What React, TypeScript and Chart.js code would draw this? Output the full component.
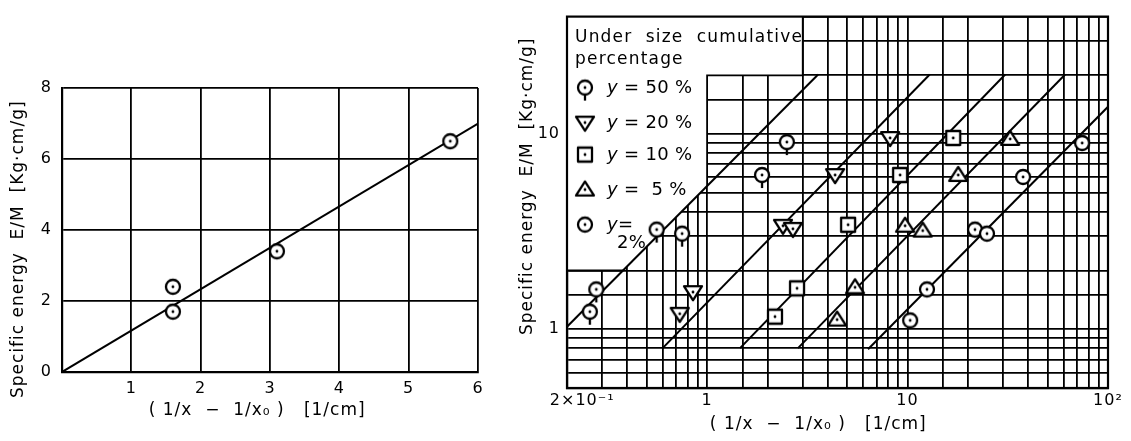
import React, { useEffect, useRef } from 'react';
import { Chart, registerables } from 'chart.js';

Chart.register(...registerables);

const FONT = '"DejaVu Sans", "Liberation Sans", sans-serif';

// ---------- Left panel data ----------
const leftX = [1.6, 1.6, 3.1, 5.6];
const leftY = [2.4, 1.7, 3.4, 6.5];
const leftFitX = [0, 6];
const leftFitY = [0, 7.0];

// ---------- Right panel data ----------
const legendTitle = ['Under  size  cumulative', 'percentage'];
const seriesLabels = ['y = 50 %', 'y = 20 %', 'y = 10 %', 'y =  5 %', 'y=\n2%'];
const x50 = [0.26, 0.28, 0.56, 0.75, 1.88, 2.5];
const y50 = [1.23, 1.6, 3.24, 3.09, 6.17, 9.1];
const x20 = [0.73, 0.85, 2.39, 2.68, 4.35, 8.18];
const y20 = [1.2, 1.55, 3.39, 3.27, 6.17, 9.55];
const x10 = [2.18, 2.81, 5.05, 9.18, 16.9];
const y10 = [1.16, 1.62, 3.43, 6.17, 9.55];
const x5 = [4.45, 5.47, 9.72, 11.9, 17.9, 32.5];
const y5 = [1.12, 1.64, 3.39, 3.2, 6.17, 9.44];
const x2 = [10.3, 12.5, 21.7, 24.9, 37.7, 74.3];
const y2 = [1.11, 1.6, 3.24, 3.09, 6.03, 9.0];
const fit50X = [0.2, 3.58];
const fit50Y = [1.03, 20.2];
const fit20X = [0.6, 12.9];
const fit20Y = [0.8, 20.2];
const fit10X = [1.46, 30.7];
const fit10Y = [0.8, 20.2];
const fit5X = [2.84, 61.1];
const fit5Y = [0.8, 20.2];
const fit2X = [6.35, 100];
const fit2Y = [0.79, 13.8];

const rightXTickValues = [0.2, 1, 10, 100];
const rightXTickLabels = ['2×10⁻¹', '1', '10', '10²'];
const rightYTickValues = [1, 10];
const rightYTickLabels = ['1', '10'];

const yTitle = 'Specific energy  E/M  [Kg·cm/g]';
const xTitle = '( 1/x  −  1/x₀ )   [1/cm]';

const zip = (xs: number[], ys: number[]) => xs.map((x, i) => ({ x, y: ys[i] }));

function makeMarker(kind: string, size: number): HTMLCanvasElement {
  const stem = kind === 'circleStem' ? 6 : 0;
  const c = document.createElement('canvas');
  const w = size + 6;
  const h = size + 6 + stem * 2;
  c.width = w;
  c.height = h;
  const ctx = c.getContext('2d')!;
  const cx = w / 2;
  const cy = h / 2;
  const r = size / 2;
  ctx.lineWidth = 2.3;
  ctx.lineJoin = 'round';
  ctx.strokeStyle = '#000';
  ctx.fillStyle = '#fff';
  ctx.beginPath();
  if (kind === 'circle' || kind === 'circleStem') {
    ctx.arc(cx, cy, r - 1, 0, Math.PI * 2);
  } else if (kind === 'triDown') {
    ctx.moveTo(cx - r, cy - r * 0.65);
    ctx.lineTo(cx + r, cy - r * 0.65);
    ctx.lineTo(cx, cy + r * 0.9);
    ctx.closePath();
  } else if (kind === 'triUp') {
    ctx.moveTo(cx - r, cy + r * 0.65);
    ctx.lineTo(cx + r, cy + r * 0.65);
    ctx.lineTo(cx, cy - r * 0.9);
    ctx.closePath();
  } else {
    ctx.rect(cx - r + 1, cy - r + 1, size - 2, size - 2);
  }
  ctx.fill();
  ctx.stroke();
  if (stem) {
    ctx.beginPath();
    ctx.moveTo(cx, cy + r - 1);
    ctx.lineTo(cx, cy + r + stem - 1);
    ctx.stroke();
  }
  ctx.fillStyle = '#000';
  ctx.beginPath();
  ctx.arc(cx, cy, 1.4, 0, Math.PI * 2);
  ctx.fill();
  return c;
}

const matchTick = (v: number, vals: number[], labels: string[]) => {
  for (let i = 0; i < vals.length; i++) {
    if (Math.abs(v - vals[i]) / vals[i] < 1e-6) return labels[i];
  }
  return '';
};

const SPACING = '1px';
const spacingPlugin = {
  id: 'letterSpacing',
  beforeUpdate(chart: any) {
    (chart.ctx as any).letterSpacing = SPACING;
  },
  beforeDraw(chart: any) {
    (chart.ctx as any).letterSpacing = SPACING;
  },
};

export default function App() {
  const leftRef = useRef<HTMLCanvasElement>(null);
  const rightRef = useRef<HTMLCanvasElement>(null);

  useEffect(() => {
    const mk = {
      circleStem: makeMarker('circleStem', 16),
      triDown: makeMarker('triDown', 18),
      square: makeMarker('square', 16),
      triUp: makeMarker('triUp', 18),
      circle: makeMarker('circle', 16),
      leftCircle: makeMarker('circle', 16),
    };
    const legendMarkers = [mk.circleStem, mk.triDown, mk.square, mk.triUp, mk.circle];

    const tickFont = { family: FONT, size: 16 };
    const titleFont = { family: FONT, size: 17 };

    const left = new Chart(leftRef.current!, {
      type: 'scatter',
      data: {
        datasets: [
          {
            data: zip(leftX, leftY),
            pointStyle: mk.leftCircle as any,
            pointRadius: 8,
            order: 1,
          },
          {
            data: zip(leftFitX, leftFitY),
            showLine: true,
            pointRadius: 0,
            borderColor: '#000',
            borderWidth: 2,
            order: 2,
          },
        ],
      },
      options: {
        animation: false,
        responsive: false,
        layout: { padding: { left: 0, right: 22, top: 88, bottom: 0 } },
        plugins: { legend: { display: false }, tooltip: { enabled: false } },
        scales: {
          x: {
            type: 'linear',
            min: 0,
            max: 6,
            afterFit: (s: any) => { s.height = 69; },
            grid: { color: '#000', lineWidth: 1.8, drawTicks: false },
            border: { color: '#000', width: 2.2 },
            ticks: {
              stepSize: 1,
              padding: 7,
              color: '#000',
              font: tickFont,
              callback: (v: any) => (v === 0 ? '' : String(v)),
            },
            title: {
              display: true,
              text: xTitle + '    ',
              color: '#000',
              font: titleFont,
              padding: { top: 0, bottom: 20 },
            },
          },
          y: {
            type: 'linear',
            min: 0,
            max: 8,
            afterFit: (s: any) => { s.width = 62; },
            grid: { color: '#000', lineWidth: 1.8, drawTicks: false },
            border: { color: '#000', width: 2.2 },
            ticks: { stepSize: 2, padding: 10, color: '#000', font: tickFont },
            title: {
              display: true,
              text: yTitle + '      ',
              color: '#000',
              font: titleFont,
              padding: { top: 8, bottom: 0 },
            },
          },
        },
      },
      plugins: [spacingPlugin],
    } as any);

    const blankPlugin = {
      id: 'blankRegion',
      beforeDatasetsDraw(chart: any) {
        const { ctx, chartArea: a, scales } = chart;
        const px = (v: number) => scales.x.getPixelForValue(v);
        const py = (v: number) => scales.y.getPixelForValue(v);
        // blank graph-paper region under the legend (follows the 50 % line)
        const slope = Math.log(fit50Y[1] / fit50Y[0]) / Math.log(fit50X[1] / fit50X[0]);
        const onFit = (x: number) => fit50Y[0] * Math.pow(x / fit50X[0], slope);
        const xAt2 = fit50X[0] * Math.pow(2 / fit50Y[0], 1 / slope);
        const pts: [number, number][] = [
          [0.2, 40], [3, 40], [3, 20], [1, 20], [1, onFit(1)], [xAt2, 2], [0.2, 2],
        ];
        ctx.save();
        ctx.fillStyle = '#fff';
        ctx.beginPath();
        pts.forEach(([x, y], i) => (i ? ctx.lineTo(px(x), py(y)) : ctx.moveTo(px(x), py(y))));
        ctx.closePath();
        ctx.fill();
        ctx.strokeStyle = '#000';
        ctx.lineWidth = 1.8;
        ctx.beginPath();
        ctx.moveTo(px(3), py(40));
        ctx.lineTo(px(3), py(20));
        ctx.lineTo(px(1), py(20));
        ctx.lineTo(px(1), py(onFit(1)));
        ctx.moveTo(px(xAt2), py(2));
        ctx.lineTo(px(0.2), py(2));
        ctx.stroke();
        ctx.lineWidth = 2.2;
        ctx.strokeRect(a.left, a.top, a.right - a.left, a.bottom - a.top);
        ctx.restore();
      },
      afterDatasetsDraw(chart: any) {
        const { ctx, chartArea: a } = chart;
        ctx.save();
        ctx.fillStyle = '#000';
        ctx.textBaseline = 'middle';
        ctx.textAlign = 'left';
        (ctx as any).letterSpacing = '1.2px';
        ctx.font = `17px ${FONT}`;
        ctx.fillText(legendTitle[0], a.left + 8, a.top + 21);
        ctx.fillText(legendTitle[1], a.left + 8, a.top + 43);
        (ctx as any).letterSpacing = '0.3px';
        const rowsY = [71, 106, 138, 173, 208];
        seriesLabels.forEach((lab, i) => {
          const m = legendMarkers[i];
          const cy = a.top + rowsY[i];
          ctx.drawImage(m, a.left + 18 - m.width / 2, cy - m.height / 2);
          const lines = lab.split('\n');
          const tx = a.left + 40;
          ctx.font = `italic 18px ${FONT}`;
          ctx.fillText('y', tx, cy + 1);
          const wy = ctx.measureText('y').width;
          ctx.font = `18px ${FONT}`;
          ctx.fillText(lines[0].slice(1), tx + wy, cy + 1);
          if (lines[1]) {
            ctx.fillText(lines[1], tx + 10, cy + 19);
          }
        });
        ctx.restore();
      },
    };

    const pointDs = (xs: number[], ys: number[], style: HTMLCanvasElement) => ({
      data: zip(xs, ys),
      pointStyle: style as any,
      pointRadius: 8,
      order: 1,
    });
    const lineDs = (xs: number[], ys: number[]) => ({
      data: zip(xs, ys),
      showLine: true,
      pointRadius: 0,
      borderColor: '#000',
      borderWidth: 2,
      order: 2,
    });

    const right = new Chart(rightRef.current!, {
      type: 'scatter',
      data: {
        datasets: [
          pointDs(x50, y50, mk.circleStem),
          pointDs(x20, y20, mk.triDown),
          pointDs(x10, y10, mk.square),
          pointDs(x5, y5, mk.triUp),
          pointDs(x2, y2, mk.circle),
          lineDs(fit50X, fit50Y),
          lineDs(fit20X, fit20Y),
          lineDs(fit10X, fit10Y),
          lineDs(fit5X, fit5Y),
          lineDs(fit2X, fit2Y),
        ],
      },
      options: {
        animation: false,
        responsive: false,
        layout: { padding: { left: 0, right: 23, top: 7, bottom: 0 } },
        plugins: { legend: { display: false }, tooltip: { enabled: false } },
        scales: {
          x: {
            type: 'logarithmic',
            min: 0.2,
            max: 100,
            afterFit: (s: any) => { s.height = 53; },
            grid: { color: '#000', lineWidth: 1.8, drawTicks: false },
            border: { color: '#000', width: 2.2 },
            ticks: {
              autoSkip: false,
              maxRotation: 0,
              padding: 3,
              color: '#000',
              font: tickFont,
              callback: (v: any) => {
                const s = matchTick(Number(v), rightXTickValues, rightXTickLabels);
                return Number(v) === rightXTickValues[0] ? '     ' + s : s;
              },
            },
            title: {
              display: true,
              text: xTitle + '      ',
              color: '#000',
              font: titleFont,
              padding: { top: 0, bottom: 6 },
            },
          },
          y: {
            type: 'logarithmic',
            min: 0.5,
            max: 40,
            afterFit: (s: any) => { s.width = 67; },
            grid: { color: '#000', lineWidth: 1.8, drawTicks: false },
            border: { color: '#000', width: 2.2 },
            ticks: {
              autoSkip: false,
              padding: 7,
              color: '#000',
              font: tickFont,
              callback: (v: any) => matchTick(Number(v), rightYTickValues, rightYTickLabels),
            },
            title: {
              display: true,
              text: '     ' + yTitle,
              color: '#000',
              font: titleFont,
              padding: { top: 17, bottom: 0 },
            },
          },
        },
      },
      plugins: [spacingPlugin, blankPlugin],
    } as any);

    return () => {
      left.destroy();
      right.destroy();
    };
  }, []);

  return (
    <div style={{ position: 'absolute', left: 0, top: 0, width: 1131, height: 441, background: '#fff' }}>
      <canvas ref={leftRef} width={500} height={441} style={{ position: 'absolute', left: 0, top: 0 }} />
      <canvas ref={rightRef} width={631} height={441} style={{ position: 'absolute', left: 500, top: 0 }} />
    </div>
  );
}
